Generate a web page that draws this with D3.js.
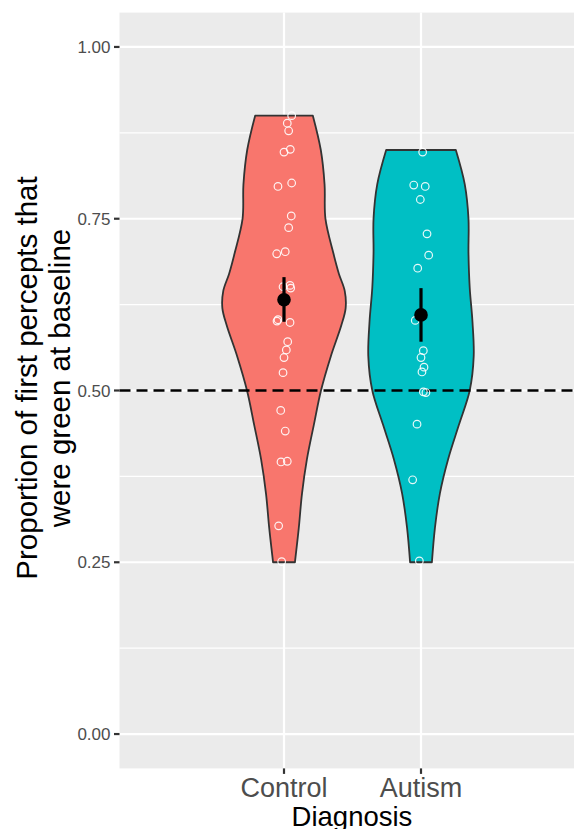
<!DOCTYPE html>
<html><head><meta charset="utf-8">
<script src="https://cdn.jsdelivr.net/npm/d3@7"></script>
<style>body{margin:0;background:#fff}</style>
</head><body>
<svg id="c" width="574" height="829"></svg>
<script>
// ---------- data ----------
const categories = ["Control", "Autism"];
const controlValues = [0.900,0.889,0.878,0.851,0.847,0.802,0.797,0.754,0.737,0.702,0.699,0.651,0.653,0.649,0.601,0.603,0.599,0.571,0.559,0.548,0.526,0.471,0.441,0.396,0.397,0.303,0.251];
const controlJitter = [0.056,0.024,0.034,0.046,0,0.056,-0.044,0.053,0.034,0.009,-0.053,-0.007,0.044,0.049,-0.051,-0.044,0.044,0.027,0.017,0,-0.007,-0.024,0.009,-0.022,0.024,-0.039,-0.017];
const autismValues = [0.847,0.799,0.797,0.778,0.728,0.697,0.678,0.602,0.558,0.548,0.534,0.527,0.498,0.497,0.451,0.370,0.252];
const autismJitter = [0.012,-0.053,0.031,-0.005,0.044,0.056,-0.024,-0.042,0.017,0,0.022,0.007,0.017,0.036,-0.029,-0.061,-0.012];
// violin density profiles (relative density, max = 1)
const controlDensityLevels = [0.25,0.30,0.35,0.40,0.45,0.50,0.55,0.595,0.62,0.645,0.67,0.70,0.75,0.80,0.85,0.90];
const controlDensity =       [0.177,0.240,0.292,0.372,0.484,0.600,0.760,0.93,1.0,0.985,0.89,0.800,0.672,0.658,0.597,0.468];
const autismDensityLevels =  [0.25,0.30,0.35,0.40,0.45,0.50,0.55,0.60,0.65,0.70,0.75,0.80,0.85];
const autismDensity =        [0.177,0.226,0.306,0.440,0.615,0.790,0.855,0.835,0.790,0.770,0.770,0.710,0.565];
const groupMeans = [0.632, 0.610];
const groupLower = [0.600, 0.571];
const groupUpper = [0.665, 0.649];
const yTicks = [0, 0.25, 0.5, 0.75, 1];
const yTickLabels = ["0.00", "0.25", "0.50", "0.75", "1.00"];
const yMinorTicks = [0.125, 0.375, 0.625, 0.875];
const referenceLine = 0.5;
const fillColors = ["#F8766D", "#00BFC4"];
const xTitle = "Diagnosis";
const yTitleLines = ["Proportion of first percepts that", "were green at baseline"];

// ---------- layout ----------
const svg = d3.select("#c");
const panel = {left: 119.5, right: 574, top: 12.6, bottom: 768.4};
const y = d3.scaleLinear().domain([-0.05, 1.05]).range([panel.bottom, panel.top]);
const x = d3.scalePoint().domain(categories).range([284, 421]);
const unit = x("Autism") - x("Control");

svg.append("rect").attr("x", panel.left).attr("y", panel.top)
  .attr("width", panel.right - panel.left).attr("height", panel.bottom - panel.top)
  .attr("fill", "#EBEBEB");

const grid = svg.append("g");
grid.selectAll("line.minor").data(yMinorTicks).join("line")
  .attr("x1", panel.left).attr("x2", panel.right)
  .attr("y1", d => y(d)).attr("y2", d => y(d))
  .attr("stroke", "#fff").attr("stroke-width", 1.1);
grid.selectAll("line.majy").data(yTicks).join("line")
  .attr("x1", panel.left).attr("x2", panel.right)
  .attr("y1", d => y(d)).attr("y2", d => y(d))
  .attr("stroke", "#fff").attr("stroke-width", 2.2);
grid.selectAll("line.majx").data(categories).join("line")
  .attr("x1", d => x(d)).attr("x2", d => x(d))
  .attr("y1", panel.top).attr("y2", panel.bottom)
  .attr("stroke", "#fff").attr("stroke-width", 2.2);

// ---------- violins ----------
const groups = [
  {cat: "Control", values: controlValues, jitter: controlJitter, fill: fillColors[0],
   prof: controlDensityLevels.map((l, i) => [l, controlDensity[i]])},
  {cat: "Autism", values: autismValues, jitter: autismJitter, fill: fillColors[1],
   prof: autismDensityLevels.map((l, i) => [l, autismDensity[i]])}
];
const w = d3.scaleLinear().domain([0, 1]).range([0, 0.45 * unit]);

groups.forEach(g => {
  const cx = x(g.cat);
  const area = d3.area()
    .curve(d3.curveCatmullRom.alpha(0.5))
    .y(d => y(d[0]))
    .x0(d => cx - w(d[1]))
    .x1(d => cx + w(d[1]));
  svg.append("path").datum(g.prof).attr("d", area)
    .attr("fill", g.fill).attr("stroke", "#333333").attr("stroke-width", 1.8)
    .attr("stroke-linejoin", "round");
});

// reference line
svg.append("line").attr("x1", panel.left).attr("x2", panel.right)
  .attr("y1", y(referenceLine)).attr("y2", y(referenceLine))
  .attr("stroke", "#000").attr("stroke-width", 2.5).attr("stroke-dasharray", "11,6");

// points
groups.forEach(g => {
  svg.append("g").selectAll("circle").data(g.values).join("circle")
    .attr("cx", (d, i) => x(g.cat) + g.jitter[i] * unit)
    .attr("cy", d => y(d))
    .attr("r", 3.8).attr("fill", "none")
    .attr("stroke", "#fff").attr("stroke-opacity", 0.9).attr("stroke-width", 1.2);
});

// mean ± SE
categories.forEach((c, i) => {
  svg.append("line").attr("x1", x(c)).attr("x2", x(c))
    .attr("y1", y(groupLower[i])).attr("y2", y(groupUpper[i]))
    .attr("stroke", "#000").attr("stroke-width", 3.2);
  svg.append("circle").attr("cx", x(c)).attr("cy", y(groupMeans[i]))
    .attr("r", 6.8).attr("fill", "#000");
});

// ---------- axes ----------
const font = "'Liberation Sans', Arial, sans-serif";
const yAxis = svg.append("g");
yAxis.selectAll("line").data(yTicks).join("line")
  .attr("x1", panel.left - 5.5).attr("x2", panel.left)
  .attr("y1", d => y(d)).attr("y2", d => y(d))
  .attr("stroke", "#333333").attr("stroke-width", 2.2);
yAxis.selectAll("text").data(yTicks).join("text")
  .attr("x", panel.left - 9).attr("y", d => y(d))
  .attr("dy", "0.36em").attr("text-anchor", "end")
  .attr("font-family", font).attr("font-size", 17).attr("fill", "#4D4D4D")
  .text((d, i) => yTickLabels[i]);

const xAxis = svg.append("g");
xAxis.selectAll("line").data(categories).join("line")
  .attr("x1", d => x(d)).attr("x2", d => x(d))
  .attr("y1", panel.bottom).attr("y2", panel.bottom + 5.5)
  .attr("stroke", "#333333").attr("stroke-width", 2.2);
xAxis.selectAll("text").data(categories).join("text")
  .attr("x", d => x(d)).attr("y", 797)
  .attr("text-anchor", "middle")
  .attr("font-family", font).attr("font-size", 27).attr("fill", "#4D4D4D")
  .text(d => d);

svg.append("text").attr("x", 352).attr("y", 826).attr("text-anchor", "middle")
  .attr("font-family", font).attr("font-size", 27.5).attr("fill", "#000").text(xTitle);

const yt = svg.append("text").attr("transform", "translate(0,378) rotate(-90)")
  .attr("text-anchor", "middle").attr("font-family", font).attr("font-size", 29.5).attr("fill", "#000");
yt.append("tspan").attr("x", 0).attr("y", 36.5).text(yTitleLines[0]);
yt.append("tspan").attr("x", 0).attr("y", 69.5).text(yTitleLines[1]);
</script>
</body></html>
